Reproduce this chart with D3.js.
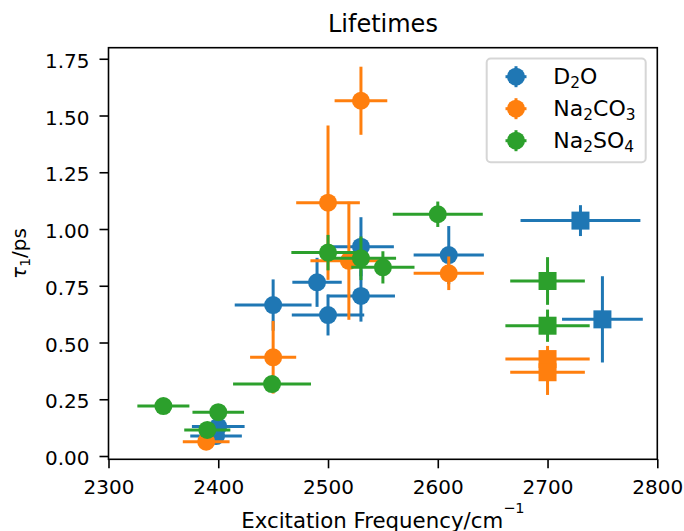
<!DOCTYPE html>
<html><head><meta charset="utf-8">
<script src="https://cdn.jsdelivr.net/npm/d3@7"></script>
<style>
body{margin:0;background:#fff}
svg{display:block}
text{font-family:"DejaVu Sans",sans-serif;fill:#000}
</style>
</head><body>
<svg id="chart" width="684" height="531"></svg>
<script>
// ---------------- data ----------------
const seriesNames = ["D_2O", "Na_2CO_3", "Na_2SO_4"];
const seriesColors = ["#1f77b4", "#ff7f0e", "#2ca02c"];

const d2oFreq    = [2530, 2530, 2500, 2490, 2450, 2610, 2400, 2398, 2730, 2750];
const d2oTau     = [0.922, 0.705, 0.621, 0.765, 0.665, 0.885, 0.130, 0.088, 1.037, 0.602];
const d2oFreqErr = [30, 31, 33, 22.5, 35, 32, 24, 23.5, 54.6, 36.8];
const d2oTauErr  = [0.13, 0.113, 0.09, 0.108, 0.113, 0.128, 0.02, 0.02, 0.068, 0.19];
const d2oMarker  = ["o", "o", "o", "o", "o", "o", "o", "o", "s", "s"];

const na2co3Freq    = [2530, 2500, 2519, 2450, 2610, 2389, 2700, 2700];
const na2co3Tau     = [1.565, 1.116, 0.860, 0.435, 0.805, 0.063, 0.427, 0.369];
const na2co3FreqErr = [24, 29, 35, 21, 32, 21.3, 38.4, 34];
const na2co3TauErr  = [0.15, 0.34, 0.26, 0.16, 0.074, 0.01, 0.058, 0.10];
const na2co3Marker  = ["o", "o", "o", "o", "o", "o", "s", "s"];

const na2so4Freq    = [2350, 2400, 2390, 2449, 2500, 2530, 2550, 2600, 2700, 2700];
const na2so4Tau     = [0.220, 0.193, 0.115, 0.317, 0.896, 0.871, 0.831, 1.065, 0.771, 0.574];
const na2so4FreqErr = [23.7, 23.5, 21, 35.5, 33.4, 32, 28.8, 41, 34, 38.4];
const na2so4TauErr  = [0.01, 0.015, 0.01, 0.03, 0.078, 0.096, 0.071, 0.056, 0.105, 0.071];
const na2so4Marker  = ["o", "o", "o", "o", "o", "o", "o", "o", "s", "s"];

const xTicks = [2300, 2400, 2500, 2600, 2700, 2800];
const yTicks = [0, 0.25, 0.5, 0.75, 1.0, 1.25, 1.5, 1.75];
const titleText = "Lifetimes";

// ---------------- build ----------------
const series = [
  {name: seriesNames[0], color: seriesColors[0], f: d2oFreq, t: d2oTau, fe: d2oFreqErr, te: d2oTauErr, mk: d2oMarker},
  {name: seriesNames[1], color: seriesColors[1], f: na2co3Freq, t: na2co3Tau, fe: na2co3FreqErr, te: na2co3TauErr, mk: na2co3Marker},
  {name: seriesNames[2], color: seriesColors[2], f: na2so4Freq, t: na2so4Tau, fe: na2so4FreqErr, te: na2so4TauErr, mk: na2so4Marker}
].map(s => ({...s, pts: s.f.map((v, i) => ({f: v, t: s.t[i], fe: s.fe[i], te: s.te[i], mk: s.mk[i]}))}));

const L = 108.5, R = 657.3, T = 47.7, B = 459.3;
const x = d3.scaleLinear().domain([2300, 2800]).range([L, R]);
const y = d3.scaleLinear().domain([-0.0145, 1.7987]).range([B, T]);

const svg = d3.select("#chart");
svg.append("rect").attr("width", 684).attr("height", 531).attr("fill", "#fff");

// title
svg.append("text").attr("x", (L + R) / 2).attr("y", 31.7)
  .attr("text-anchor", "middle").style("font-size", "24px").text(titleText);

// data marks
const plot = svg.append("g");
function drawGroup(s, kind) {
  const pts = s.pts.filter(p => p.mk === kind);
  const g = plot.append("g");
  g.selectAll("line.h").data(pts).join("line")
    .attr("x1", p => x(p.f - p.fe)).attr("x2", p => x(p.f + p.fe))
    .attr("y1", p => y(p.t)).attr("y2", p => y(p.t))
    .attr("stroke", s.color).attr("stroke-width", 3);
  g.selectAll("line.v").data(pts).join("line")
    .attr("x1", p => x(p.f)).attr("x2", p => x(p.f))
    .attr("y1", p => y(p.t - p.te)).attr("y2", p => y(p.t + p.te))
    .attr("stroke", s.color).attr("stroke-width", 3);
  if (kind === "o") {
    g.selectAll("circle").data(pts).join("circle")
      .attr("cx", p => x(p.f)).attr("cy", p => y(p.t)).attr("r", 9)
      .attr("fill", s.color);
  } else {
    g.selectAll("rect").data(pts).join("rect")
      .attr("x", p => x(p.f) - 9).attr("y", p => y(p.t) - 9)
      .attr("width", 18).attr("height", 18).attr("fill", s.color);
  }
}
series.forEach(s => drawGroup(s, "o"));
series.forEach(s => drawGroup(s, "s"));

// axes
const xAxis = d3.axisBottom(x).tickValues(xTicks).tickFormat(d3.format("d"))
  .tickSizeInner(9).tickSizeOuter(0).tickPadding(11.8);
const gx = svg.append("g").attr("transform", `translate(0,${B})`).call(xAxis);
gx.select(".domain").remove();
gx.selectAll(".tick line").attr("stroke", "#000").attr("stroke-width", 1.6);
gx.selectAll(".tick text").style("font-size", "20px").attr("font-family", "DejaVu Sans").attr("fill", "#000");

const yAxis = d3.axisLeft(y).tickValues(yTicks).tickFormat(d3.format(".2f"))
  .tickSizeInner(9).tickSizeOuter(0).tickPadding(10);
const gy = svg.append("g").attr("transform", `translate(${L},0)`).call(yAxis);
gy.select(".domain").remove();
gy.selectAll(".tick line").attr("stroke", "#000").attr("stroke-width", 1.6);
gy.selectAll(".tick text").style("font-size", "20px").attr("dy", "0.435em").attr("font-family", "DejaVu Sans").attr("fill", "#000");

// spines
svg.append("rect").attr("x", L).attr("y", T).attr("width", R - L).attr("height", B - T)
  .attr("fill", "none").attr("stroke", "#000").attr("stroke-width", 1.6);

// axis labels
const xl = svg.append("text").attr("x", (L + R) / 2).attr("y", 528.3)
  .attr("text-anchor", "middle").style("font-size", "21.3px");
xl.append("tspan").text("Excitation Frequency/cm");
xl.append("tspan").attr("dy", -15).style("font-size", "14.5px").text("\u22121");

const yl = svg.append("text").attr("transform", `translate(26,${(T + B) / 2}) rotate(-90)`)
  .attr("text-anchor", "middle").style("font-size", "20px");
yl.append("tspan").style("font-style", "italic").text("\u03c4");
yl.append("tspan").attr("dy", 3.5).style("font-size", "14px").text("1");
yl.append("tspan").attr("dy", -3.5).text("/ps");

// legend
const lg = svg.append("g");
lg.append("rect").attr("x", 486.7).attr("y", 58.6).attr("width", 159).attr("height", 103.7)
  .attr("rx", 4).attr("fill", "#fff").attr("fill-opacity", 0.8)
  .attr("stroke", "#cccccc").attr("stroke-opacity", 0.8).attr("stroke-width", 2);
function richLabel(sel, label) {
  const parts = label.split(/(_\d)/).filter(d => d.length);
  let sub = false;
  parts.forEach(p => {
    if (p.startsWith("_")) {
      sel.append("tspan").attr("dy", 3.8).style("font-size", "15.4px").text(p.slice(1));
      sub = true;
    } else {
      const t = sel.append("tspan").text(p);
      if (sub) { t.attr("dy", -3.8); sub = false; }
    }
  });
}
series.forEach((s, i) => {
  const cy = 76.7 + i * 32;
  const e = lg.append("g");
  e.append("line").attr("x1", 505.5).attr("x2", 526.5).attr("y1", cy).attr("y2", cy)
    .attr("stroke", s.color).attr("stroke-width", 3);
  e.append("line").attr("x1", 516).attr("x2", 516).attr("y1", cy - 10.5).attr("y2", cy + 10.5)
    .attr("stroke", s.color).attr("stroke-width", 3);
  e.append("circle").attr("cx", 516).attr("cy", cy).attr("r", 9).attr("fill", s.color);
  const t = e.append("text").attr("x", 553.3).attr("y", cy + 7).style("font-size", "22px");
  richLabel(t, s.name);
});
</script>
</body></html>
